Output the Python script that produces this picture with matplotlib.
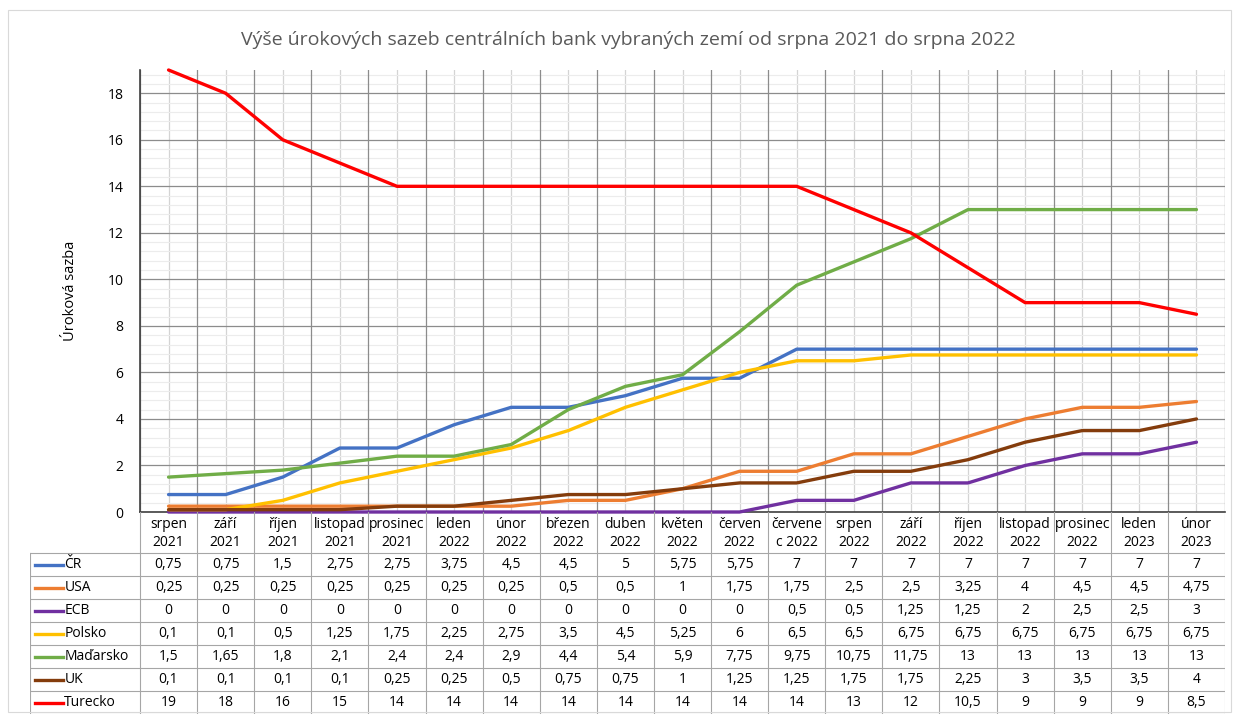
import matplotlib
matplotlib.use("Agg")
import matplotlib.pyplot as plt
from matplotlib.ticker import MultipleLocator
from matplotlib.patches import Rectangle
import numpy as np

plt.rcParams['font.family'] = ['Open Sans', 'DejaVu Sans']

# data
months = ['srpen\n2021', 'září\n2021', 'říjen\n2021', 'listopad\n2021', 'prosinec\n2021',
          'leden\n2022', 'únor\n2022', 'březen\n2022', 'duben\n2022', 'květen\n2022',
          'červen\n2022', 'červene\nc 2022', 'srpen\n2022', 'září\n2022', 'říjen\n2022',
          'listopad\n2022', 'prosinec\n2022', 'leden\n2023', 'únor\n2023']

names = ['ČR', 'USA', 'ECB', 'Polsko', 'Maďarsko', 'UK', 'Turecko']
cr = [0.75, 0.75, 1.5, 2.75, 2.75, 3.75, 4.5, 4.5, 5, 5.75, 5.75, 7, 7, 7, 7, 7, 7, 7, 7]
usa = [0.25, 0.25, 0.25, 0.25, 0.25, 0.25, 0.25, 0.5, 0.5, 1, 1.75, 1.75, 2.5, 2.5, 3.25, 4, 4.5, 4.5, 4.75]
ecb = [0, 0, 0, 0, 0, 0, 0, 0, 0, 0, 0, 0.5, 0.5, 1.25, 1.25, 2, 2.5, 2.5, 3]
polsko = [0.1, 0.1, 0.5, 1.25, 1.75, 2.25, 2.75, 3.5, 4.5, 5.25, 6, 6.5, 6.5, 6.75, 6.75, 6.75, 6.75, 6.75, 6.75]
madarsko = [1.5, 1.65, 1.8, 2.1, 2.4, 2.4, 2.9, 4.4, 5.4, 5.9, 7.75, 9.75, 10.75, 11.75, 13, 13, 13, 13, 13]
uk = [0.1, 0.1, 0.1, 0.1, 0.25, 0.25, 0.5, 0.75, 0.75, 1, 1.25, 1.25, 1.75, 1.75, 2.25, 3, 3.5, 3.5, 4]
turecko = [19, 18, 16, 15, 14, 14, 14, 14, 14, 14, 14, 14, 13, 12, 10.5, 9, 9, 9, 8.5]

series = [cr, usa, ecb, polsko, madarsko, uk, turecko]
colors = ['#4472C4', '#ED7D31', '#7030A0', '#FFC000', '#70AD47', '#843C0C', '#FF0000']

W, H = 1235, 716
fig = plt.figure(figsize=(W / 100, H / 100), dpi=100)

# outer frame
fig.patches.append(Rectangle((8 / W, 4 / H), (W - 12) / W, (H - 14) / H, transform=fig.transFigure,
                             fill=False, edgecolor='#d9d9d9', linewidth=0.8))

px_l, px_r, px_t, px_b = 140, 1225, 70, 512
ax = fig.add_axes([px_l / W, 1 - px_b / H, (px_r - px_l) / W, (px_b - px_t) / H])
n = len(months)
x = np.arange(n)
ax.set_xlim(-0.5, n - 0.5)
ax.set_ylim(0, 19)

# grid
ax.yaxis.set_major_locator(MultipleLocator(2))
ax.yaxis.set_minor_locator(MultipleLocator(0.4))
ax.grid(which='major', axis='y', color='#8c8c8c', linewidth=0.9)
ax.grid(which='minor', axis='y', color='#ececec', linewidth=0.8)
for i in range(n):
    ax.axvline(i, color='#d4d4d4', linewidth=0.9, zorder=0.5)
for i in range(n + 1):
    ax.axvline(i - 0.5, color='#8c8c8c', linewidth=0.9, zorder=0.6)
ax.set_axisbelow(True)

for s, c in zip(series, colors):
    ax.plot(x, s, color=c, linewidth=2.4, solid_joinstyle='round', solid_capstyle='round', zorder=3, clip_on=False)

ax.set_xticks([])
ax.tick_params(axis='y', which='both', length=0, labelsize=10, pad=12)
for sp in ['top', 'right']:
    ax.spines[sp].set_visible(False)
ax.spines['left'].set_color('#404040')
ax.spines['bottom'].set_color('#404040')
ax.spines['left'].set_linewidth(1.2)
ax.spines['bottom'].set_linewidth(1.2)
ax.set_ylabel('Úroková sazba', fontsize=10.5, labelpad=21)

fig.text(628 / W, 1 - 40 / H, 'Výše úrokových sazeb centrálních bank vybraných zemí od srpna 2021 do srpna 2022',
         ha='center', va='center', fontsize=14, color='#595959')

# data table
tb_l, tb_b = 30, 714
unit = (px_r - px_l) / n
tax = fig.add_axes([tb_l / W, 1 - tb_b / H, (px_r - tb_l) / W, (tb_b - px_b) / H])
x0 = -0.5 - (px_l - tb_l) / unit
tax.set_xlim(x0, n - 0.5)
tax.set_ylim(tb_b, px_b)
tax.axis('off')

head_bot = 553
row_h = (tb_b - head_bot) / len(names)
line_c = '#a6a6a6'
for i in range(n + 1):
    tax.plot([i - 0.5, i - 0.5], [px_b, tb_b], color=line_c, linewidth=0.8)
tax.plot([x0, x0], [head_bot, tb_b], color=line_c, linewidth=0.8)
for r in range(len(names) + 1):
    yy = head_bot + r * row_h
    tax.plot([x0, n - 0.5], [yy, yy], color=line_c, linewidth=0.8)

for i, m in enumerate(months):
    tax.text(i, (px_b + head_bot) / 2 + 1, m, ha='center', va='center', fontsize=10, linespacing=1.3)

for r, (nm, s, c) in enumerate(zip(names, series, colors)):
    yc = head_bot + (r + 0.5) * row_h
    tax.plot([x0 + 0.09, x0 + 0.58], [yc, yc], color=c, linewidth=2.4)
    tax.text(x0 + 0.6, yc, nm, ha='left', va='center', fontsize=10)
    for i, v in enumerate(s):
        tax.text(i, yc, ('%g' % v).replace('.', ','), ha='center', va='center', fontsize=10)

fig.savefig('out.png', dpi=100)
